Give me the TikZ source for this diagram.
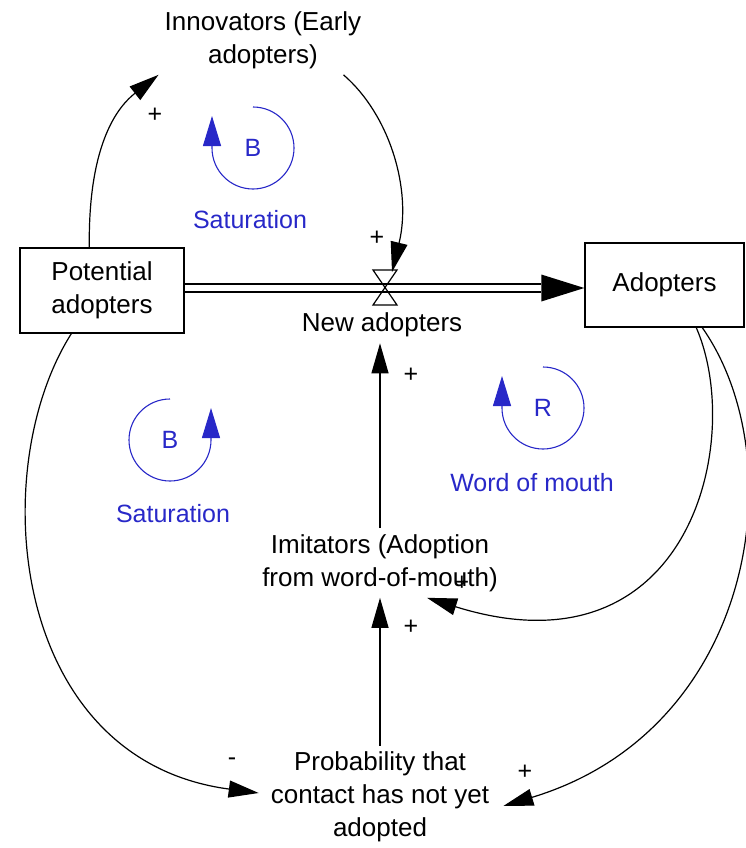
\documentclass[tikz,border=0pt]{standalone}
\usepackage{fontspec}
\setmainfont{Liberation Sans}
\usetikzlibrary{arrows.meta,calc}
\definecolor{loopblue}{RGB}{40,40,200}
\begin{document}
\begin{tikzpicture}[x=1pt,y=-1pt,
  lbl/.style={font=\fontsize{26}{33}\selectfont, align=center, inner sep=6pt},
  box/.style={draw, line width=1.4pt, font=\fontsize{26}{33}\selectfont, align=center, inner sep=2pt},
  link/.style={line width=1.2pt, -{Triangle[length=30pt,width=17pt]}},
  pipe/.style={line width=1.3pt},
  pol/.style={font=\fontsize{25}{25}\selectfont, inner sep=0pt},
  loopc/.style={draw=loopblue, line width=1.1pt, -{Triangle[length=30pt,width=18pt]}},
  looptxt/.style={text=loopblue, font=\fontsize{25}{30}\selectfont, inner sep=0pt}
]
\useasboundingbox (0,0) rectangle (745,848);

% nodes
\node[lbl] (innov) at (263,40) {Innovators (Early\\adopters)};
\node[box, minimum width=164pt, minimum height=85pt] (pot) at (102,290.5) {Potential\\adopters};
\node[box, minimum width=159pt, minimum height=84pt] (adopt) at (664.5,285) {Adopters};
\coordinate (valve) at (385,288);
\node[lbl] (newad) at (382,325) {New adopters};
\node[lbl] (imit) at (380,563) {Imitators (Adoption\\from word-of-mouth)};
\node[lbl] (prob) at (380,797) {Probability that\\contact has not yet\\adopted};

% flow pipe
\draw[pipe] ($(pot.east|-valve)+(0,-4)$) -- ($(adopt.west|-valve)+(-43,-4)$);
\draw[pipe] ($(pot.east|-valve)+(0,4)$) -- ($(adopt.west|-valve)+(-43,4)$);
\fill (adopt.west|-valve) -- ++(-43,-13.5) -- ++(0,27) -- cycle;
\draw[line width=1.2pt] ($(valve)+(-12,-18)$) -- ++(24,0) -- ($(valve)+(-12,17)$) -- ++(24,0) -- cycle;

% causal links
\draw[link] ($(pot.north west)+(70,0)$) .. controls (88,140) and (120,105) .. (innov.south west);
\draw[link] ($(innov.south east)+(-24,0)$) .. controls (390,115) and (412,190) .. ($(valve)+(7,-16)$);
\draw[link] (imit.north) -- (imit.north |- newad.south);
\draw[link] (prob.north) -- (prob.north |- imit.south);
\draw[link] ($(pot.south west)+(52,0)$) .. controls (-15,470) and (10,760) .. ($(prob.west)+(-6,-4)$);
\draw[link] ($(adopt.south west)+(112,0)$) .. controls (745,440) and (690,680) .. ($(imit.south)+(47,0)$);
\draw[link] ($(adopt.south west)+(118,0)$) .. controls (795,460) and (755,730) .. ($(prob.east)+(8,9)$);

% polarities
\node[pol] (p1) at (155,115) {+};
\node[pol] (p2) at (377,238) {+};
\node[pol] (p3) at (411,375) {+};
\node[pol] (p4) at (411,627) {+};
\node[pol] (p5) at (462,583) {+};
\node[pol] (p6) at (525,772) {+};
\node[pol] (p7) at (232,762) {-};

% loops
\coordinate (l1) at (253,148);
\draw[loopc] ($(l1)+(0,-41)$) arc[start angle=270, end angle=540, radius=41] -- ++(0,-32);
\node[looptxt] (l1b) at (l1) {B};
\node[looptxt] (l1t) at (250,220) {Saturation};

\coordinate (l2) at (170,440);
\draw[loopc] ($(l2)+(0,-41)$) arc[start angle=270, end angle=0, radius=41] -- ++(0,-32);
\node[looptxt] (l2b) at (l2) {B};
\node[looptxt] (l2t) at (173,514) {Saturation};

\coordinate (l3) at (543,408);
\draw[loopc] ($(l3)+(0,-41)$) arc[start angle=270, end angle=540, radius=41] -- ++(0,-32);
\node[looptxt] (l3b) at (l3) {R};
\node[looptxt] (l3t) at (532,483) {Word of mouth};
\end{tikzpicture}
\end{document}
